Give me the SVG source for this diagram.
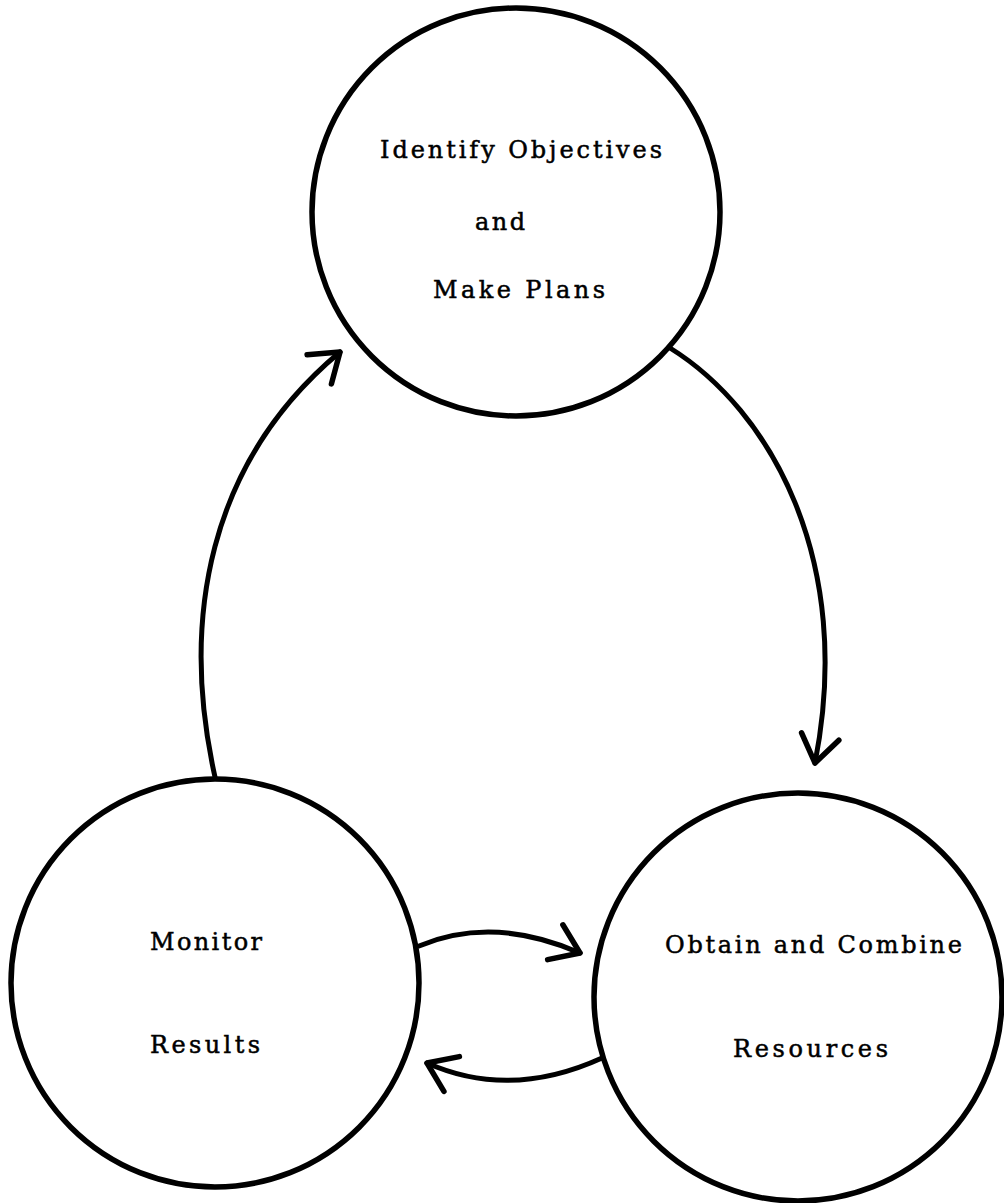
<svg xmlns="http://www.w3.org/2000/svg" width="1004" height="1203" viewBox="0 0 1004 1203">
  <style>
    .node { fill: #ffffff; stroke: #000000; stroke-width: 5.5; }
    .edge { fill: none; stroke: #000000; stroke-width: 5; stroke-linecap: round; }
    .label { font-family: "DejaVu Serif", "Liberation Serif", serif; font-size: 24px; fill: #000000; stroke: #000000; stroke-width: 0.5; }
  </style>
  <defs>
    <!-- open V arrowhead, tip at the path end -->
    <marker id="arrow" markerUnits="userSpaceOnUse" viewBox="-34 -24 38 48" refX="0" refY="0" markerWidth="38" markerHeight="48" orient="auto" overflow="visible">
      <path d="M-27,-19 L0,0 L-27,19" fill="none" stroke="#000000" stroke-width="5.5" stroke-linecap="round" stroke-linejoin="round"/>
    </marker>
  </defs>

  <rect x="0" y="0" width="1004" height="1203" fill="#ffffff"/>

  <!-- cycle connectors -->
  <g id="connectors">
    <path class="edge" d="M215,777 C180,620 208,462 340,352" marker-end="url(#arrow)"/>
    <path class="edge" d="M670,348 C770,410 855,560 815,763" marker-end="url(#arrow)"/>
    <path class="edge" d="M419,946 Q493,915 580,953" marker-end="url(#arrow)"/>
    <path class="edge" d="M602,1058 Q510,1100 427,1063" marker-end="url(#arrow)"/>
  </g>

  <g id="identify-objectives">
    <circle class="node" cx="516" cy="212" r="204"/>
    <text class="label" x="380" y="158" textLength="282" lengthAdjust="spacing">Identify Objectives</text>
    <text class="label" x="475" y="230" textLength="50" lengthAdjust="spacing">and</text>
    <text class="label" x="433" y="298" textLength="172" lengthAdjust="spacing">Make Plans</text>
  </g>

  <g id="monitor-results">
    <circle class="node" cx="215" cy="983" r="204"/>
    <text class="label" x="150" y="950" textLength="112" lengthAdjust="spacing">Monitor</text>
    <text class="label" x="150" y="1053" textLength="110" lengthAdjust="spacing">Results</text>
  </g>

  <g id="obtain-resources">
    <circle class="node" cx="798" cy="997" r="204"/>
    <text class="label" x="665" y="953" textLength="297" lengthAdjust="spacing">Obtain and Combine</text>
    <text class="label" x="733" y="1057" textLength="155" lengthAdjust="spacing">Resources</text>
  </g>
</svg>
